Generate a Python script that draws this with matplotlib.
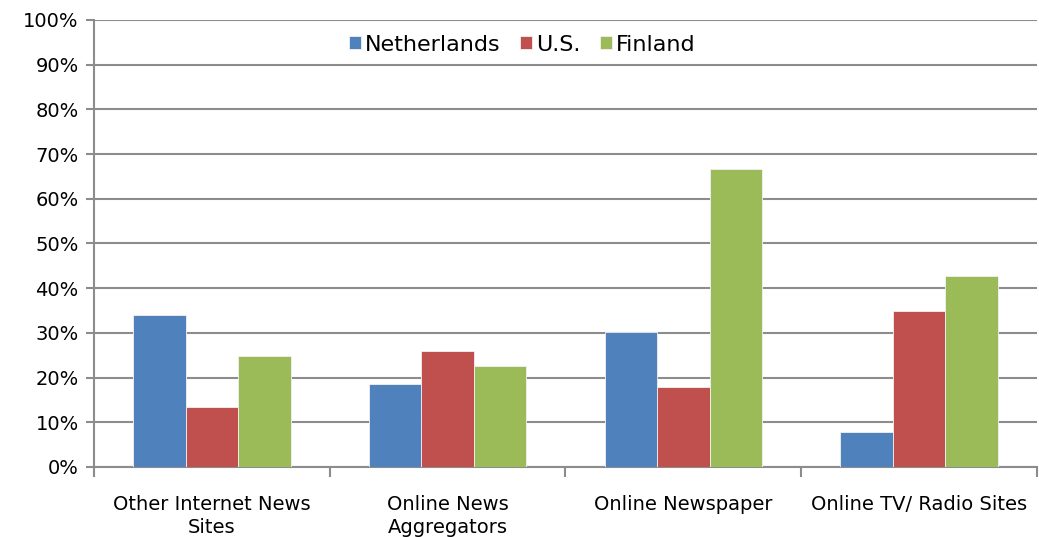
import numpy as np
import matplotlib.pyplot as plt
from matplotlib.ticker import MultipleLocator, PercentFormatter

# 資料
categories = ['Other Internet News\nSites', 'Online News\nAggregators',
              'Online Newspaper', 'Online TV/ Radio Sites']
series_names = ['Netherlands', 'U.S.', 'Finland']
netherlands = [34.1, 18.6, 30.2, 7.8]
us = [13.5, 25.9, 17.9, 34.9]
finland = [24.9, 22.7, 66.7, 42.8]
colors = ['#4F81BD', '#C0504D', '#9BBB59']

plt.rcParams['font.family'] = ['DejaVu Sans']

fig = plt.figure(figsize=(10.39, 5.37), dpi=100)
ax = fig.add_axes([0.0905, 0.1304, 0.9075, 0.8324])

x = np.arange(len(categories))
width = 0.2225
for i, (vals, name) in enumerate(zip([netherlands, us, finland], series_names)):
    ax.bar(x + (i - 1) * width, vals, width, color=colors[i], label=name,
           edgecolor='#f2f2f2', linewidth=0.6, zorder=3)

ax.set_xlim(-0.5, len(categories) - 0.5)
ax.set_ylim(0, 100)
ax.yaxis.set_major_locator(MultipleLocator(10))
ax.yaxis.set_major_formatter(PercentFormatter(decimals=0))
ax.grid(axis='y', color='#8c8c8c', linewidth=1.5, zorder=0)

# 類別標籤放在中間，刻度放在類別邊界
ax.set_xticks(x)
ax.set_xticklabels(categories, fontsize=14, linespacing=1.3)
ax.tick_params(axis='x', length=0, pad=20)
ax.set_xticks(np.arange(-0.5, len(categories), 1), minor=True)
ax.tick_params(axis='x', which='minor', length=7, width=1.5, color='#8c8c8c')
ax.tick_params(axis='y', labelsize=14, length=6, width=1.5, color='#8c8c8c', pad=5)

for side in ['top', 'right']:
    ax.spines[side].set_visible(False)
for side in ['left', 'bottom']:
    ax.spines[side].set_color('#8c8c8c')
    ax.spines[side].set_linewidth(1.5)

ax.legend(loc='center', bbox_to_anchor=(0.454, 0.945), ncol=3, frameon=False,
          fontsize=16, handlelength=0.55, handleheight=0.55, handletextpad=0.15,
          columnspacing=0.9, borderpad=0)

fig.savefig('out.png', dpi=100)
